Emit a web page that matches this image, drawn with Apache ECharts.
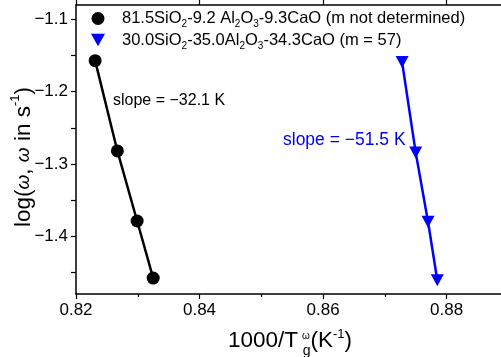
<!DOCTYPE html>
<html>
<head>
<meta charset="utf-8">
<script src="https://cdn.jsdelivr.net/npm/echarts@6/dist/echarts.min.js"></script>
<style>
  html, body { margin: 0; padding: 0; background: #fff; }
  #chart { width: 501px; height: 357px; }
</style>
</head>
<body>
<div id="chart"></div>
<script>
// 1000/Tg (K^-1) against log(omega) for the two glass compositions
const seriesNames = [
  '81.5SiO2-9.2 Al2O3-9.3CaO (m not determined)',
  '30.0SiO2-35.0Al2O3-34.3CaO (m = 57)'
];
const silicaRichX = [0.8231, 0.8267, 0.8299, 0.8325];
const silicaRichY = [-1.157, -1.282, -1.379, -1.458];
const aluminaRichX = [0.8728, 0.8750, 0.8770, 0.8785];
const aluminaRichY = [-1.159, -1.284, -1.380, -1.461];
const slopeTexts = ['slope = \u221232.1 K', 'slope = \u221251.5 K'];

const xMajorTicks = [0.82, 0.84, 0.86, 0.88];
const yMajorTicks = [-1.4, -1.3, -1.2, -1.1];
const yAllTicks = [-1.45, -1.4, -1.35, -1.3, -1.25, -1.2, -1.15, -1.1];

const FONT = '"Liberation Sans", Arial, Helvetica, sans-serif';
const downTriangle = 'path://M0,0 L10,0 L5,9 Z';

const pairs = (xs, ys) => xs.map((x, i) => [x, ys[i]]);
const signed = (v, digits) => (v < 0 ? '\u2212' : '') + Math.abs(v).toFixed(digits);

// Legend labels with chemical subscripts
const legendRich = {
  n: { fontSize: 16.5, lineHeight: 22, fontFamily: FONT, color: '#000', verticalAlign: 'middle' },
  s: { fontSize: 10, lineHeight: 22, fontFamily: FONT, color: '#000', verticalAlign: 'bottom' }
};
function formulaLabel(name) {
  return name.replace(/([A-Za-z])(\d)/g, (m, a, d) => a + '\u0000' + d)
    .split(/(\u0000\d)/)
    .filter(t => t.length)
    .map(t => t[0] === '\u0000' ? '{s|' + t.slice(1) + '}' : '{n|' + t + '}')
    .join('');
}

const axisLineStyle = { color: '#000', width: 1.5 };
const tickStyle = { color: '#000', width: 1.2 };
// the frame runs past the right edge of the canvas
const X_MIN = 0.82, X_MAX = 0.8893;

const chart = echarts.init(document.getElementById('chart'), null, { renderer: 'canvas' });
chart.setOption({
  animation: false,
  backgroundColor: '#fff',
  grid: { left: 76, right: -3, top: 5, bottom: 63, containLabel: false, outerBoundsMode: 'none' },
  legend: {
    orient: 'vertical',
    left: 86,
    top: 5,
    itemWidth: 14,
    itemHeight: 13,
    itemGap: 2,
    data: [
      { name: seriesNames[0], icon: 'circle' },
      { name: seriesNames[1], icon: downTriangle }
    ],
    formatter: formulaLabel,
    textStyle: { fontFamily: FONT, fontSize: 16.5, color: '#000', padding: [0, 0, 0, 12], rich: legendRich }
  },
  xAxis: [
    {
      type: 'value', min: X_MIN, max: X_MAX, interval: 0.02,
      position: 'bottom',
      name: '{n|1000/T}{w|ω}{g|g}{n|(K}{sup|-1}{n|)}',
      nameLocation: 'middle',
      nameGap: 27,
      nameTextStyle: {
        fontFamily: FONT, color: '#000', padding: [0, 0, 0, 0],
        rich: {
          n: { fontSize: 22.5, fontFamily: FONT, color: '#000', lineHeight: 34, verticalAlign: 'middle' },
          w: { fontSize: 10, fontFamily: FONT, color: '#000', lineHeight: 34, verticalAlign: 'top', padding: [7, 0, 0, 4] },
          g: { fontSize: 14, fontFamily: FONT, color: '#000', lineHeight: 34, verticalAlign: 'bottom', padding: [0, 0, 0, -7] },
          sup: { fontSize: 13, fontFamily: FONT, color: '#000', lineHeight: 34, verticalAlign: 'top', padding: [4, 0, 0, 0] }
        }
      },
      axisLine: { show: true, onZero: false, lineStyle: axisLineStyle },
      axisTick: { show: true, inside: false, length: 5, lineStyle: tickStyle },
      minorTick: { show: true, splitNumber: 2, length: 3, lineStyle: tickStyle },
      axisLabel: {
        fontFamily: FONT, fontSize: 17, color: '#000', margin: 8,
        customValues: xMajorTicks,
        formatter: v => v.toFixed(2)
      },
      splitLine: { show: false }
    },
    {
      type: 'value', min: X_MIN, max: X_MAX, interval: 0.02,
      position: 'top',
      axisLine: { show: true, onZero: false, lineStyle: axisLineStyle },
      axisTick: { show: true, inside: false, length: 5, lineStyle: tickStyle },
      axisLabel: { show: false },
      splitLine: { show: false }
    }
  ],
  yAxis: [
    {
      type: 'value', min: -1.48, max: -1.08,
      position: 'left',
      name: '{n|log(}{i|ω}{n|, }{i|ω}{n| in s}{sup|-1}{n|)}',
      nameLocation: 'middle',
      nameRotate: 90,
      nameGap: 37,
      nameMoveOverlap: false,
      nameTextStyle: {
        fontFamily: FONT, color: '#000', padding: [0, 15, 0, 0],
        rich: {
          n: { fontSize: 22.5, fontFamily: FONT, color: '#000', lineHeight: 30, verticalAlign: 'middle' },
          i: { fontSize: 19, fontFamily: FONT, fontStyle: 'italic', color: '#000', lineHeight: 30, verticalAlign: 'middle' },
          sup: { fontSize: 13, fontFamily: FONT, color: '#000', lineHeight: 30, verticalAlign: 'top' }
        }
      },
      axisLine: { show: true, onZero: false, lineStyle: axisLineStyle },
      axisTick: { show: true, inside: false, length: 5, customValues: yAllTicks, lineStyle: tickStyle },
      axisLabel: {
        fontFamily: FONT, fontSize: 17, color: '#000', margin: 8,
        customValues: yMajorTicks,
        formatter: v => signed(v, 1)
      },
      splitLine: { show: false }
    }
  ],
  series: [
    {
      name: seriesNames[0],
      type: 'line',
      data: pairs(silicaRichX, silicaRichY),
      symbol: 'circle',
      symbolSize: 13,
      lineStyle: { color: '#000', width: 2.5 },
      itemStyle: { color: '#000' },
      z: 3
    },
    {
      name: seriesNames[1],
      type: 'line',
      data: pairs(aluminaRichX, aluminaRichY),
      symbol: downTriangle,
      symbolSize: [13, 12],
      lineStyle: { color: '#0000ff', width: 2.5 },
      itemStyle: { color: '#0000ff' },
      z: 3
    }
  ],
  graphic: [
    {
      type: 'text', left: 113, top: 93,
      style: { text: slopeTexts[0], fontFamily: FONT, fontSize: 16, fill: '#000' }
    },
    {
      type: 'text', left: 283, top: 131,
      style: { text: slopeTexts[1], fontFamily: FONT, fontSize: 17.5, fill: '#0000ff' }
    }
  ]
});
</script>
</body>
</html>
